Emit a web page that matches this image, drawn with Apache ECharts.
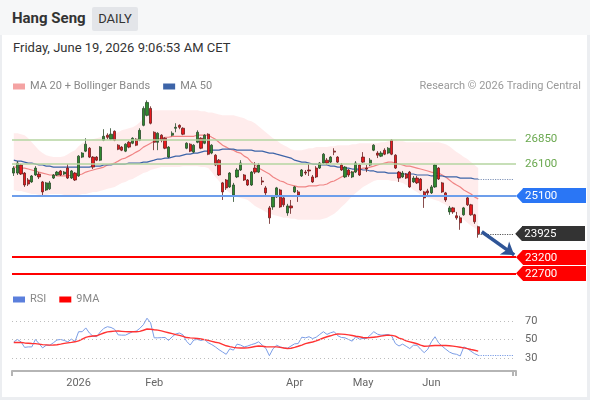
<!DOCTYPE html>
<html>
<head>
<meta charset="utf-8">
<script src="https://cdn.jsdelivr.net/npm/echarts@6/dist/echarts.min.js"></script>
<style>
html,body{margin:0;padding:0;width:590px;height:400px;overflow:hidden;background:#eceef1;font-family:Roboto,"Liberation Sans",Arial,sans-serif;}
#hdr{position:absolute;left:0;top:0;width:590px;height:35px;background:#f6f7f8;}
#title{position:absolute;left:12px;top:9px;font-size:15px;font-weight:bold;color:#333;}
#badge{position:absolute;left:92px;top:7px;width:46px;height:24px;line-height:24px;text-align:center;background:#e3e5e9;color:#333;font-size:13px;border-radius:2px;}
#panel{position:absolute;left:2px;top:35px;width:585px;height:362px;background:#fff;}
#date{position:absolute;left:13px;top:40px;font-size:13px;color:#333;}
#chart{position:absolute;left:0;top:0;width:590px;height:400px;}
</style>
</head>
<body>
<div id="hdr"><div id="title">Hang Seng</div><div id="badge">DAILY</div></div>
<div id="panel"></div>
<div id="date">Friday, June 19, 2026 9:06:53 AM CET</div>
<div id="chart"></div>
<script>
// ---------- categories (trading days) ----------
const dates = [
"2025-12-04","2025-12-05","2025-12-08","2025-12-09","2025-12-10","2025-12-11","2025-12-12","2025-12-15","2025-12-16","2025-12-17",
"2025-12-18","2025-12-19","2025-12-22","2025-12-23","2025-12-24","2025-12-29","2025-12-30","2025-12-31","2026-01-02","2026-01-05",
"2026-01-06","2026-01-07","2026-01-08","2026-01-09","2026-01-12","2026-01-13","2026-01-14","2026-01-15","2026-01-16","2026-01-19",
"2026-01-20","2026-01-21","2026-01-22","2026-01-23","2026-01-26","2026-01-27","2026-01-28","2026-01-29","2026-01-30","2026-02-02",
"2026-02-03","2026-02-04","2026-02-05","2026-02-06","2026-02-09","2026-02-10","2026-02-11","2026-02-12","2026-02-13","2026-02-16",
"2026-02-20","2026-02-23","2026-02-24","2026-02-25","2026-02-26","2026-02-27","2026-03-02","2026-03-03","2026-03-04","2026-03-05",
"2026-03-06","2026-03-09","2026-03-10","2026-03-11","2026-03-12","2026-03-13","2026-03-16","2026-03-17","2026-03-18","2026-03-19",
"2026-03-20","2026-03-23","2026-03-24","2026-03-25","2026-03-26","2026-03-27","2026-03-30","2026-03-31","2026-04-01","2026-04-02",
"2026-04-08","2026-04-09","2026-04-10","2026-04-13","2026-04-14","2026-04-15","2026-04-16","2026-04-17","2026-04-20","2026-04-21",
"2026-04-22","2026-04-23","2026-04-24","2026-04-27","2026-04-28","2026-04-29","2026-04-30","2026-05-04","2026-05-05","2026-05-06",
"2026-05-07","2026-05-08","2026-05-11","2026-05-12","2026-05-13","2026-05-14","2026-05-15","2026-05-18","2026-05-19","2026-05-20",
"2026-05-21","2026-05-22","2026-05-26","2026-05-27","2026-05-28","2026-05-29","2026-06-01","2026-06-02","2026-06-03","2026-06-04",
"2026-06-05","2026-06-08","2026-06-09","2026-06-10","2026-06-11","2026-06-12","2026-06-15","2026-06-16","2026-06-17","2026-06-18"];
const futureDates = ["2026-06-22","2026-06-23","2026-06-24","2026-06-25","2026-06-26","2026-06-29","2026-06-30","2026-07-02","2026-07-03","2026-07-06"];

// ---------- tick labels ----------
const tickDates = ["2026-01-02","2026-02-02","2026-04-01","2026-05-04","2026-06-01"];
const tickTexts = ["2026","Feb","Apr","May","Jun"];

// ---------- OHLC ----------
const open = [25810,25810,26060,25810,25595,25535,25750,25780,25535,25285,25320,25655,25750,25875,25780,25965,25655,25810,25720,26305,
26490,26580,26305,26305,26210,26830,26985,26860,27105,26675,26615,26490,26765,26735,26860,26830,27290,27600,27815,27075,
26765,26985,26890,26305,26985,27200,27290,27200,26580,26705,26460,26765,26890,26735,27015,26430,26365,26210,25505,25595,
25380,25130,25690,25905,25750,25595,25440,25965,25840,25565,25350,24730,24760,25070,25285,25040,24575,24790,25225,25225,
25720,25840,25905,25690,25965,25965,26120,26210,26150,26490,26305,26060,25690,25905,25690,25840,26060,26305,25965,26060,
26520,26430,26335,26520,26430,26830,26365,25840,25690,25780,25840,25535,25655,25625,25225,25255,25195,25380,25965,25505,
25195,24605,24730,24485,24420,24515,25040,24825,24515,24145];
const close = [25965,26120,25780,25440,25470,25720,25965,25690,25225,25505,25505,25750,25840,25750,25840,25655,25875,25595,26335,26430,
26705,26305,25995,26210,26615,26950,26920,27015,26830,26550,26520,26705,26615,26890,26675,27135,27815,28000,27355,26765,
27045,26830,26580,26615,27045,27230,27230,27015,26735,26490,26675,27075,26580,26985,26395,26675,26060,25750,25225,25350,
25810,25440,25905,26120,25595,25440,25840,25840,26060,25535,25195,24420,25070,25350,24760,24825,24790,24730,25380,25130,
25905,25810,25875,25535,25690,26120,26395,26120,26305,26460,26150,25905,25995,25750,25840,26120,25750,26150,25935,26210,
26675,26365,26430,26395,26580,26395,25965,25655,25810,25655,25380,25655,25505,25285,25040,25195,25380,26060,25625,25225,
24975,24730,24605,24420,24270,24730,24825,24515,24300,23925];
const low = [25720,25750,25750,25380,25410,25505,25720,25625,25100,25255,25285,25625,25720,25720,25750,25625,25625,25565,25690,26275,
26460,26275,25935,26180,26180,26800,26860,26830,26800,26520,26490,26460,26580,26705,26645,26800,27260,27570,27320,26520,
26520,26765,26550,26275,26950,27075,27170,26985,26550,26460,26430,26735,26550,26705,26365,26395,26025,25720,24975,25285,
25350,24915,25655,25875,25565,25410,25410,25780,25810,25440,25130,24235,24670,25040,24730,24760,24485,24545,25195,24915,
25690,25750,25720,25505,25655,25935,26090,26060,26120,26365,26120,25875,25655,25690,25655,25810,25720,26120,25840,26025,
26490,26275,26305,26365,26395,26365,25935,25535,25655,25625,25350,25505,25470,25255,24730,25130,25160,25350,25595,25195,
24915,24515,24545,24360,24050,24485,24790,24485,24235,23805];
const high = [26025,26180,26090,25840,25655,25750,26025,25840,25565,25535,25565,25780,25875,25905,25875,26090,25905,25840,26365,26460,
26890,26615,26335,26335,26645,27170,27045,27200,27135,26705,26645,26735,26800,26920,26890,27200,27880,28065,27880,27105,
27075,27015,26920,26645,27105,27355,27320,27230,26765,26735,26705,27135,26920,27015,27045,26705,26395,26245,25535,25625,
25840,25505,25965,26210,25780,25625,25875,26150,26120,25690,25410,24790,25130,25380,25320,25070,24855,24975,25410,25285,
25935,25905,26090,25750,26025,26150,26430,26275,26335,26580,26335,26120,26025,25935,25875,26180,26090,26460,26060,26275,
26705,26490,26490,26580,26615,26860,26395,25875,25875,25810,25875,25720,25720,25655,25255,25320,25440,26090,25995,25535,
25225,24790,24760,24605,24485,24760,25070,24855,24545,24175];

// ---------- overlays ----------
const bbUpper = [27045,27045,27015,26985,26890,26765,26645,26520,26430,26365,26335,26305,26305,26305,26335,26395,26460,26520,26645,26735,
26800,26830,26860,26890,26920,26950,26985,27015,27045,27075,27135,27170,27200,27230,27290,27385,27510,27630,27725,27755,
27755,27755,27755,27755,27755,27755,27755,27755,27755,27755,27755,27755,27725,27725,27690,27690,27660,27630,27600,27600,
27600,27600,27570,27540,27510,27445,27415,27355,27260,27170,27075,26985,26890,26830,26735,26675,26615,26550,26520,26520,
26520,26550,26580,26580,26615,26615,26615,26615,26645,26645,26675,26675,26675,26675,26705,26705,26735,26735,26735,26735,
26735,26735,26765,26765,26800,26830,26830,26800,26800,26765,26765,26765,26765,26765,26765,26765,26765,26765,26765,26735,
26705,26645,26550,26460,26395,26305,26245,26150,26060,25965];
const bbLower = [25285,25255,25255,25225,25195,25160,25160,25130,25130,25130,25160,25160,25160,25160,25130,25130,25130,25130,25130,25160,
25160,25195,25225,25225,25255,25285,25320,25350,25380,25440,25505,25535,25595,25625,25690,25750,25810,25840,25905,25935,
25965,25995,25995,25995,25995,25995,25995,26025,26025,26025,26025,26025,25995,25995,25965,25840,25690,25565,25410,25285,
25195,25130,25070,25040,25010,24975,24885,24790,24730,24670,24605,24545,24515,24485,24455,24420,24420,24390,24390,24360,
24360,24360,24360,24360,24360,24360,24390,24420,24485,24545,24640,24760,24855,24975,25100,25195,25285,25380,25440,25505,
25565,25595,25595,25595,25595,25565,25565,25535,25505,25440,25380,25285,25225,25130,25100,25040,25010,24975,24945,24885,
24825,24730,24640,24545,24455,24360,24270,24175,24115,24020];
const ma20 = [25995,25995,25965,25965,25935,25905,25875,25840,25810,25780,25750,25750,25720,25720,25720,25720,25750,25750,25750,25780,
25840,25875,25905,25935,25965,25995,26060,26090,26120,26180,26245,26275,26335,26395,26460,26520,26615,26675,26735,26800,
26860,26890,26920,26920,26950,26950,26950,26950,26950,26950,26950,26985,26985,26985,26985,26920,26860,26765,26675,26615,
26550,26520,26460,26430,26335,26275,26150,26060,25965,25905,25840,25780,25690,25625,25565,25535,25470,25440,25410,25380,
25380,25380,25410,25410,25410,25440,25440,25470,25535,25565,25625,25690,25750,25810,25840,25875,25905,25965,25965,25995,
26025,26060,26090,26120,26150,26150,26120,26090,26060,26025,26025,25995,25965,25935,25905,25875,25840,25810,25810,25750,
25690,25595,25505,25440,25380,25285,25225,25160,25070,25010];
const ma50 = [26210,26180,26180,26150,26120,26120,26090,26060,26060,26025,26025,25995,25995,25995,25995,25995,25995,25995,25995,25995,
25995,25995,26025,26025,26025,26060,26060,26060,26090,26090,26090,26090,26120,26120,26120,26120,26150,26150,26180,26210,
26245,26245,26275,26275,26305,26335,26335,26365,26395,26395,26430,26430,26460,26490,26490,26520,26520,26520,26550,26550,
26550,26550,26520,26520,26520,26520,26520,26490,26490,26490,26460,26430,26430,26395,26365,26335,26305,26275,26210,26180,
26150,26150,26120,26090,26090,26060,26060,26060,26025,26025,25995,25995,25965,25965,25935,25935,25935,25905,25905,25875,
25875,25840,25840,25840,25810,25810,25810,25810,25780,25780,25780,25780,25750,25750,25750,25750,25720,25720,25720,25720,
25690,25690,25690,25690,25655,25655,25655,25655,25625,25625];

// ---------- levels ----------
const resistances = [26850, 26100];
const pivot = [25100];
const supports = [23200, 22700];
const lastClose = close[close.length - 1];

// ---------- RSI ----------
const rsi = [47.5,50,47.5,41.5,42,42,50,45.6,40.9,43.8,43.8,46.5,49.5,50,49,47.5,50.4,48,58.4,58.4,
62.5,57,53.5,53,58,62,63.8,63,61,55,54.7,54.7,56.5,58.4,59,62,66,73,68,51.8,
51.8,52,52.2,49,53,56,57,55,48,44,49.5,50,49,50,46.5,44.5,42,39,36.5,34,
40,38.5,45,44,42,43,44.5,45.6,47.5,44,40.5,32.5,40,43.8,42,41,40.5,43,45.3,45.6,
52.5,51.8,53,51,52.5,55.5,58.4,55.5,57.3,58.4,54,52.2,51.8,50,48.2,53,50.4,51.1,51.1,54.7,
58.4,55.8,54.7,55,55.5,53.6,45.6,43,45,42.7,40.2,43.8,43.8,39.5,35.8,39.5,47.5,53,46.4,42.7,
39.5,36.5,34.7,34,32.2,42,40.2,37.3,34.7,33];
const rsiMA = [46.7,46.7,46.7,46.3,46,45.7,45.5,45,44.5,44.2,43.9,44.1,44.4,45,45.8,46.4,46.9,47.5,48.5,50.5,
52.3,53.3,53.8,54,55.5,57,58.2,58.6,59,59.1,58.8,58.5,58.4,58.4,58.4,58.8,60,61.3,61,60.5,
60.1,59.3,58.3,57.3,56.3,55.2,54.4,53.4,52.1,51.7,51.5,51.1,50.5,49.8,49,48,47,46.3,44.7,43.2,
42.3,41.5,41,40.9,40.9,41,41.7,42.4,43,42.7,42.2,42,42,42,41.5,40.8,40.3,40.5,41.5,42.7,
44,45.5,46.5,47.3,48.5,50,51.6,53,54,55.2,56,55.8,55.5,55,54.3,53.5,52.9,52.2,51.9,52.1,
52.5,52.9,53.6,54.3,54.7,54.5,53.7,51.5,50.4,48.5,47.5,46.5,45.4,44,42.7,42.9,43.2,43.5,43.6,43.7,
43.5,43.3,42.8,42.3,41.6,40.9,40.2,39.2,38.4,37.5];
const rsiLevels = [70, 50, 30];

// ---------- build ----------
const FONT = 'Roboto, "Liberation Sans", Arial, sans-serif';
const allCats = dates.concat(futureDates);
const N = dates.length;
const lastCat = allCats[allCats.length - 1];
const candleData = open.map((o, i) => [o, close[i], low[i], high[i]]);
const bandWidth = bbUpper.map((u, i) => u - bbLower[i]);
const tickMap = {};
tickDates.forEach((d, i) => { tickMap[d] = tickTexts[i]; });

function tagImage(color) {
  const c = document.createElement('canvas');
  c.width = 140; c.height = 28;
  const g = c.getContext('2d');
  g.fillStyle = color;
  g.beginPath();
  g.moveTo(0, 14); g.lineTo(14, 0); g.lineTo(140, 0); g.lineTo(140, 28); g.lineTo(14, 28);
  g.closePath(); g.fill();
  return c;
}
function tagRich(color) {
  return {
    backgroundColor: { image: tagImage(color) },
    color: '#fff', fontSize: 11.5, fontFamily: FONT,
    width: 61, height: 14, lineHeight: 14, padding: [1, 0, 0, 9]
  };
}
const rich = { blue: tagRich('#2a76f5'), red: tagRich('#ff0000'), dark: tagRich('#333333') };

const levelLines = [].concat(
  resistances.map(v => ({ yAxis: v, lineStyle: { color: '#b5d5a0', width: 1.5, type: 'solid' },
    label: { formatter: String(v), color: '#6aa84f', fontSize: 11.5, fontFamily: FONT, distance: 9 } })),
  pivot.map(v => ({ yAxis: v, lineStyle: { color: '#6d9eeb', width: 2, type: 'solid' },
    label: { formatter: '{blue|' + v + '}', rich: rich, distance: 0 } })),
  supports.map(v => ({ yAxis: v, lineStyle: { color: '#ff0000', width: 2, type: 'solid' },
    label: { formatter: '{red|' + v + '}', rich: rich, distance: 0 } }))
);

const chart = echarts.init(document.getElementById('chart'));
chart.setOption({
  animation: false,
  textStyle: { fontFamily: FONT },
  title: { text: 'Research \u00a9 2026 Trading Central', right: 9, top: 81, padding: 0,
    textStyle: { fontSize: 11, color: '#9a9a9a', fontWeight: 'normal', fontFamily: FONT } },
  legend: [
    { data: ['MA 20 + Bollinger Bands', 'MA 50'], left: 13, top: 81, padding: 0, icon: 'rect',
      itemWidth: 12, itemHeight: 6, itemGap: 13, selectedMode: false,
      textStyle: { color: '#888', fontSize: 11, fontFamily: FONT } },
    { data: ['RSI', '9MA'], left: 13, top: 294, padding: 0, icon: 'rect',
      itemWidth: 12, itemHeight: 6, itemGap: 13, selectedMode: false,
      textStyle: { color: '#888', fontSize: 11, fontFamily: FONT } }
  ],
  grid: [
    { left: 12, right: 74, top: 96, height: 187 },
    { left: 12, right: 74, top: 308, height: 63 }
  ],
  xAxis: [
    { type: 'category', gridIndex: 0, data: allCats, boundaryGap: true, show: false },
    { type: 'category', gridIndex: 1, data: allCats, boundaryGap: true,
      axisLine: { show: true, lineStyle: { color: '#b5b5b5', width: 2 } },
      axisTick: { show: true, length: 5, lineStyle: { color: '#b5b5b5', width: 2 },
        interval: (idx) => idx === 0 || idx >= allCats.length - 1 },
      axisLabel: { interval: (idx, val) => tickMap[val] !== undefined,
        formatter: (val) => tickMap[val] || '', color: '#666', fontSize: 11, margin: 7, fontFamily: FONT },
      splitLine: { show: false } }
  ],
  yAxis: [
    { type: 'value', gridIndex: 0, min: 22400, max: 28200, show: false, splitLine: { show: false } },
    { type: 'value', gridIndex: 1, min: 16, max: 84, show: false, splitLine: { show: false } }
  ],
  series: [
    { type: 'line', name: 'bbLower', data: bbLower, stack: 'bb', symbol: 'none', silent: true,
      lineStyle: { opacity: 0 }, z: 1,
      markLine: { silent: true, symbol: 'none', animation: false, data: levelLines } },
    { type: 'line', name: 'bbBand', data: bandWidth, stack: 'bb', symbol: 'none', silent: true,
      lineStyle: { opacity: 0 }, areaStyle: { color: 'rgba(255,40,40,0.13)' }, z: 1 },
    { type: 'line', name: 'MA 20 + Bollinger Bands', data: ma20, symbol: 'none', silent: true,
      lineStyle: { color: '#f08585', width: 1.2 }, itemStyle: { color: '#f4a3a3' }, z: 2 },
    { type: 'line', name: 'MA 50', data: ma50, symbol: 'none', silent: true,
      lineStyle: { color: '#3d64a8', width: 1.2 }, itemStyle: { color: '#3d64a8' }, z: 2,
      markLine: { silent: true, symbol: 'none', animation: false,
        lineStyle: { color: '#7f93b8', type: 'dotted', width: 1.2 }, label: { show: false },
        data: [[{ coord: [dates[N - 1], ma50[N - 1]] }, { coord: [lastCat, ma50[N - 1]] }]] } },
    { type: 'candlestick', name: 'Hang Seng', data: candleData, barWidth: '70%', silent: true, z: 3,
      itemStyle: { color: '#2f8a2f', color0: '#e8191c', borderColor: '#2a4a2a', borderColor0: '#6a2020', borderWidth: 0.8 },
      markLine: { silent: true, symbol: 'none', animation: false, data: [
        [{ coord: [dates[N - 1], lastClose], lineStyle: { color: '#555', type: 'dotted', width: 1.2 },
           label: { position: 'end', formatter: '{dark|' + lastClose + '}', rich: rich, distance: 1 } },
         { coord: [lastCat, lastClose] }],
        [{ coord: [allCats[N], 23990], symbol: 'none', lineStyle: { color: '#2f5597', width: 3.5, type: 'solid' }, label: { show: false } },
         { coord: [lastCat, 23270], symbol: 'arrow', symbolSize: [12, 12] }]
      ] } },
    { type: 'line', name: 'RSI', xAxisIndex: 1, yAxisIndex: 1, data: rsi, symbol: 'none', silent: true,
      lineStyle: { color: '#7b9de6', width: 1 }, itemStyle: { color: '#5b7fdc' },
      markLine: { silent: true, symbol: 'none', animation: false,
        data: rsiLevels.map(v => ({ yAxis: v, lineStyle: { color: '#bdbdbd', type: [1, 3], width: 1 },
          label: { formatter: String(v), color: '#666', fontSize: 11, fontFamily: FONT, distance: 9 } }))
          .concat([[{ coord: [dates[N - 1], rsi[N - 1]], lineStyle: { color: '#7b9de6', type: 'dotted', width: 1.2 }, label: { show: false } },
                    { coord: [lastCat, rsi[N - 1]] }]]) } },
    { type: 'line', name: '9MA', xAxisIndex: 1, yAxisIndex: 1, data: rsiMA, symbol: 'none', silent: true,
      lineStyle: { color: '#ff3333', width: 1.4 }, itemStyle: { color: '#ff0000' } }
  ]
});
</script>
</body>
</html>
